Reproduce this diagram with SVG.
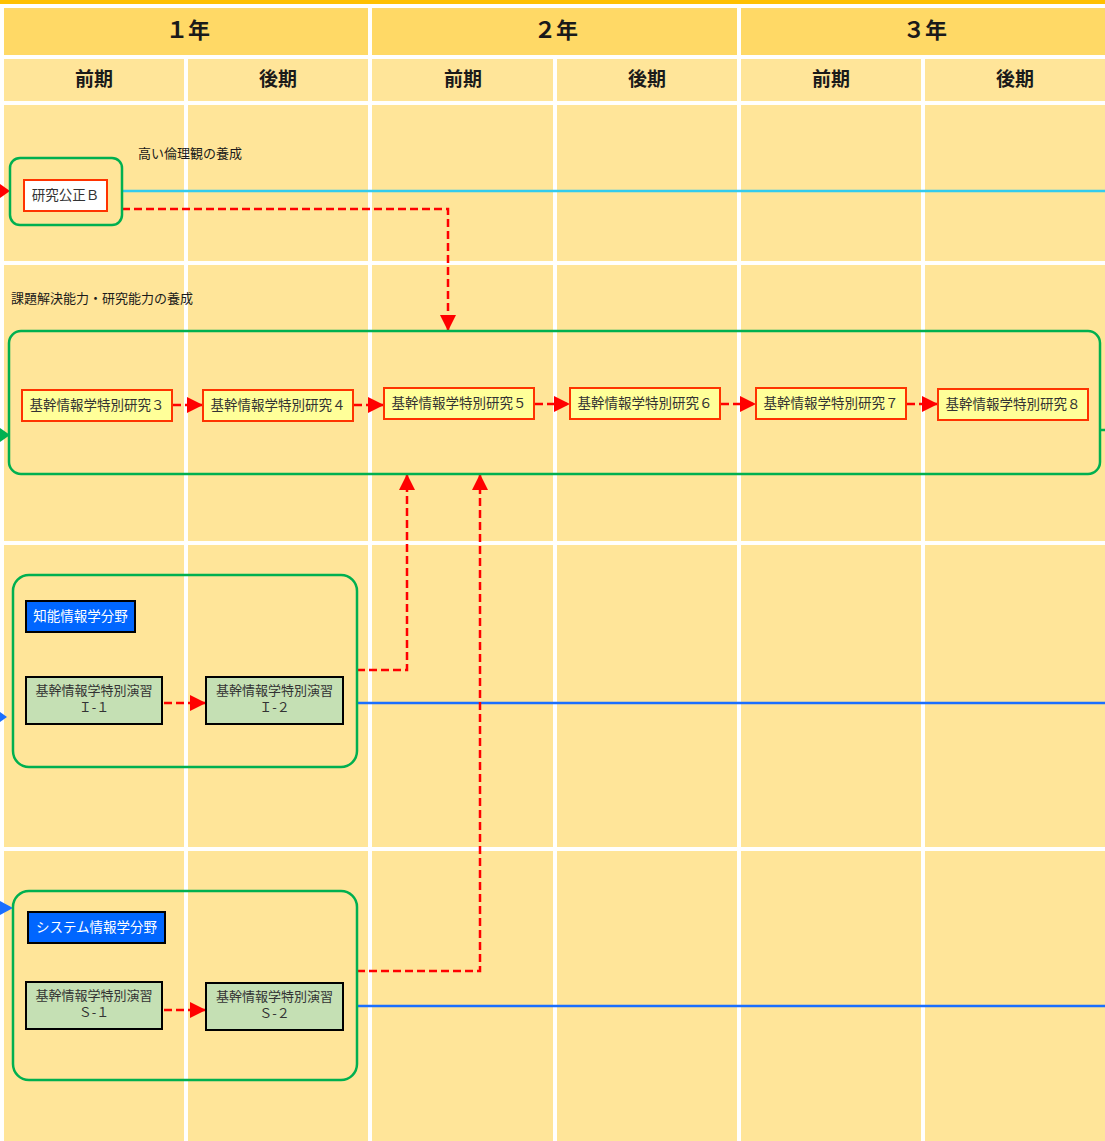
<svg xmlns="http://www.w3.org/2000/svg" width="1105" height="1141" viewBox="0 0 1105 1141">
<defs>
<style>
text{font-family:"Noto Sans CJK JP","Noto Sans",sans-serif;}
.yr{fill:#FFD966;}
.cell{fill:#FFE599;}
.hy{font-size:22px;font-weight:bold;fill:#1a1a1a;text-anchor:middle;}
.hs{font-size:19px;font-weight:bold;fill:#1a1a1a;text-anchor:middle;}
.grp{fill:none;stroke:#00B050;stroke-width:2.5;}
.rs{fill:#FFFF99;stroke:#FF3300;stroke-width:2;}
.ex{fill:#C5E0B4;stroke:#000;stroke-width:2;}
.lb{fill:#0066FF;stroke:#000;stroke-width:2;}
.t{font-size:13.5px;fill:#333;text-anchor:middle;}
.t2{font-size:13px;fill:#333;text-anchor:middle;}
.tw{font-size:13.5px;fill:#fff;text-anchor:middle;}
.cap{font-size:13px;fill:#1a1a1a;}
.dash{fill:none;stroke:#FF0000;stroke-width:2.5;stroke-dasharray:8,4;}
</style>
<marker id="arb" markerWidth="16" markerHeight="16" refX="15" refY="8" orient="auto" markerUnits="userSpaceOnUse" viewBox="0 0 16 16"><path d="M0,0 L16,8 L0,16 z" fill="#FF0000"/></marker>
</defs>
<rect width="1105" height="1141" fill="#fff"/>
<rect x="0" y="0" width="1105" height="4" fill="#FFC000"/>
<g id="header">
<rect class="yr" x="4" y="8" width="364" height="47"/>
<rect class="yr" x="372" y="8" width="365" height="47"/>
<rect class="yr" x="741" y="8" width="364" height="47"/>
<text class="hy" x="188" y="38">１年</text>
<text class="hy" x="556" y="38">２年</text>
<text class="hy" x="925" y="38">３年</text>
<rect class="cell" x="4" y="59" width="180" height="42"/>
<rect class="cell" x="188" y="59" width="180" height="42"/>
<rect class="cell" x="372" y="59" width="181" height="42"/>
<rect class="cell" x="557" y="59" width="180" height="42"/>
<rect class="cell" x="741" y="59" width="180" height="42"/>
<rect class="cell" x="925" y="59" width="180" height="42"/>
<text class="hs" x="94" y="86">前期</text>
<text class="hs" x="278" y="86">後期</text>
<text class="hs" x="463" y="86">前期</text>
<text class="hs" x="647" y="86">後期</text>
<text class="hs" x="831" y="86">前期</text>
<text class="hs" x="1015" y="86">後期</text>
</g>
<g id="grid">
<rect class="cell" x="4" y="105" width="180" height="156"/><rect class="cell" x="188" y="105" width="180" height="156"/><rect class="cell" x="372" y="105" width="181" height="156"/><rect class="cell" x="557" y="105" width="180" height="156"/><rect class="cell" x="741" y="105" width="180" height="156"/><rect class="cell" x="925" y="105" width="180" height="156"/>
<rect class="cell" x="4" y="265" width="180" height="276"/><rect class="cell" x="188" y="265" width="180" height="276"/><rect class="cell" x="372" y="265" width="181" height="276"/><rect class="cell" x="557" y="265" width="180" height="276"/><rect class="cell" x="741" y="265" width="180" height="276"/><rect class="cell" x="925" y="265" width="180" height="276"/>
<rect class="cell" x="4" y="545" width="180" height="302"/><rect class="cell" x="188" y="545" width="180" height="302"/><rect class="cell" x="372" y="545" width="181" height="302"/><rect class="cell" x="557" y="545" width="180" height="302"/><rect class="cell" x="741" y="545" width="180" height="302"/><rect class="cell" x="925" y="545" width="180" height="302"/>
<rect class="cell" x="4" y="851" width="180" height="290"/><rect class="cell" x="188" y="851" width="180" height="290"/><rect class="cell" x="372" y="851" width="181" height="290"/><rect class="cell" x="557" y="851" width="180" height="290"/><rect class="cell" x="741" y="851" width="180" height="290"/><rect class="cell" x="925" y="851" width="180" height="290"/>
</g>
<g id="connectors">
<line x1="122" y1="191" x2="1105" y2="191" stroke="#33CCEE" stroke-width="2.5"/>
<line x1="1100" y1="430" x2="1105" y2="430" stroke="#00B050" stroke-width="2.5"/>
<line x1="357" y1="703" x2="1105" y2="703" stroke="#1A6FFF" stroke-width="2.5"/>
<line x1="357" y1="1006" x2="1105" y2="1006" stroke="#1A6FFF" stroke-width="2.5"/>
<path d="M0,184 L10,191 L0,198 z" fill="#FF0000"/>
<path d="M0,428 L10,435 L0,442 z" fill="#00B050"/>
<path d="M0,712 L7,717 L0,722 z" fill="#1A6FFF"/>
<path d="M0,901 L13,908 L0,915 z" fill="#1A6FFF"/>
<path class="dash" d="M122,209 L448,209 L448,330" marker-end="url(#arb)"/>
<path class="dash" d="M357,670 L407,670 L407,475" marker-end="url(#arb)"/>
<path class="dash" d="M357,971 L480,971 L480,475" marker-end="url(#arb)"/>
<path class="dash" d="M173,405 L202,405" marker-end="url(#arb)"/>
<path class="dash" d="M354,405 L383,405" marker-end="url(#arb)"/>
<path class="dash" d="M535,404 L569,404" marker-end="url(#arb)"/>
<path class="dash" d="M721,404 L755,404" marker-end="url(#arb)"/>
<path class="dash" d="M907,404 L937,404" marker-end="url(#arb)"/>
<path class="dash" d="M164,703 L205,703" marker-end="url(#arb)"/>
<path class="dash" d="M164,1010 L205,1010" marker-end="url(#arb)"/>
</g>
<g id="group-ethics">
<rect class="grp" x="10" y="158" width="112" height="67" rx="10"/>
<text class="cap" x="138" y="158">高い倫理観の養成</text>
</g>
<g id="node-kouseiB">
<rect x="24" y="180" width="83" height="31" fill="#fff" stroke="#FF3300" stroke-width="2"/>
<text class="t" x="65.5" y="200">研究公正Ｂ</text>
</g>
<g id="group-research">
<text class="cap" x="11" y="303">課題解決能力・研究能力の養成</text>
<rect class="grp" x="9" y="331" width="1091" height="143" rx="12"/>
</g>
<g id="node-r3"><rect class="rs" x="22" y="390" width="150" height="31"/><text class="t" x="97" y="410">基幹情報学特別研究３</text></g>
<g id="node-r4"><rect class="rs" x="203" y="390" width="150" height="31"/><text class="t" x="278" y="410">基幹情報学特別研究４</text></g>
<g id="node-r5"><rect class="rs" x="384" y="388" width="150" height="31"/><text class="t" x="459" y="408">基幹情報学特別研究５</text></g>
<g id="node-r6"><rect class="rs" x="570" y="388" width="150" height="31"/><text class="t" x="645" y="408">基幹情報学特別研究６</text></g>
<g id="node-r7"><rect class="rs" x="756" y="388" width="150" height="31"/><text class="t" x="831" y="408">基幹情報学特別研究７</text></g>
<g id="node-r8"><rect class="rs" x="938" y="389" width="150" height="31"/><text class="t" x="1013" y="409">基幹情報学特別研究８</text></g>
<g id="group-intelligent">
<rect class="grp" x="13" y="575" width="344" height="192" rx="16"/>
<rect class="lb" x="26" y="601" width="109" height="31"/>
<text class="tw" x="80.5" y="621">知能情報学分野</text>
</g>
<g id="node-i1"><rect class="ex" x="26" y="677" width="136" height="47"/><text class="t2" x="94" y="695">基幹情報学特別演習</text><text class="t2" x="94" y="712">Ｉ-１</text></g>
<g id="node-i2"><rect class="ex" x="206" y="677" width="137" height="47"/><text class="t2" x="274.5" y="695">基幹情報学特別演習</text><text class="t2" x="274.5" y="712">Ｉ-２</text></g>
<g id="group-system">
<rect class="grp" x="13" y="891" width="344" height="189" rx="16"/>
<rect class="lb" x="28" y="912" width="137" height="31"/>
<text class="tw" x="96.5" y="932">システム情報学分野</text>
</g>
<g id="node-s1"><rect class="ex" x="26" y="982" width="136" height="47"/><text class="t2" x="94" y="1000">基幹情報学特別演習</text><text class="t2" x="94" y="1017">Ｓ-１</text></g>
<g id="node-s2"><rect class="ex" x="206" y="983" width="137" height="47"/><text class="t2" x="274.5" y="1001">基幹情報学特別演習</text><text class="t2" x="274.5" y="1018">Ｓ-２</text></g>
</svg>
